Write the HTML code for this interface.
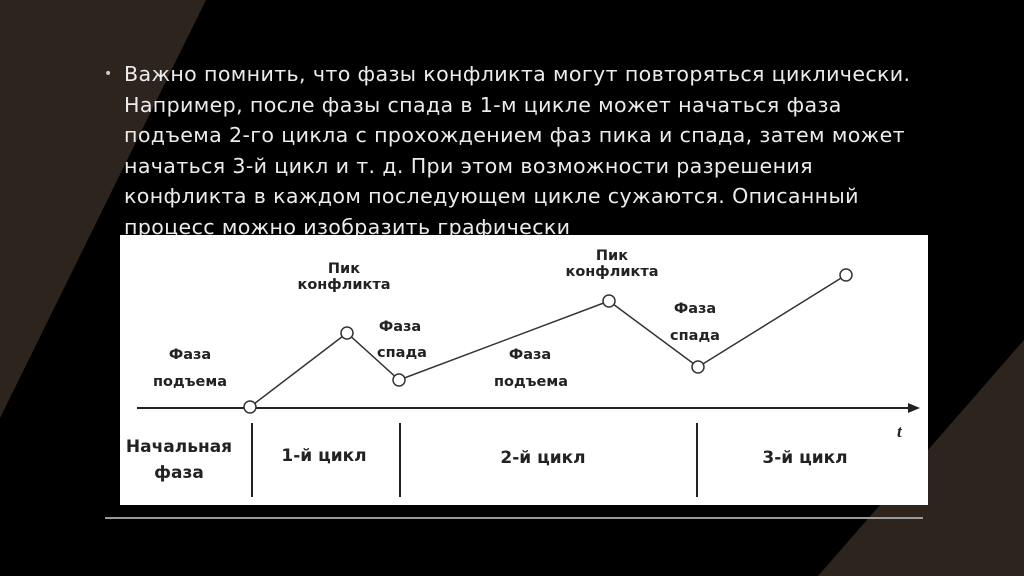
<!DOCTYPE html>
<html><head><meta charset="utf-8"><style>
html,body{margin:0;padding:0;}
body{width:1024px;height:576px;background:#000;position:relative;overflow:hidden;font-family:"DejaVu Sans","Liberation Sans",sans-serif;}
.txt{position:absolute;left:124px;top:59px;color:#ececec;font-size:20.6px;line-height:30.6px;white-space:nowrap;letter-spacing:0.35px;}
.bul{position:absolute;left:104px;top:59px;color:#ccc;font-size:14px;line-height:30px;}
</style></head><body>
<svg width="1024" height="576" style="position:absolute;left:0;top:0">
<polygon points="0,0 206,0 0,418" fill="#2e241e"/>
<polygon points="1024,340 1024,576 818,576" fill="#2e241e"/>
<line x1="105" y1="518" x2="923" y2="518" stroke="#9a9a9a" stroke-width="2"/>
</svg>
<div class="bul">•</div>
<div class="txt">Важно помнить, что фазы конфликта могут повторяться циклически.<br>Например, после фазы спада в 1-м цикле может начаться фаза<br>подъема 2-го цикла с прохождением фаз пика и спада, затем может<br>начаться 3-й цикл и т. д. При этом возможности разрешения<br>конфликта в каждом последующем цикле сужаются. Описанный<br>процесс можно изобразить графически</div>
<svg width="1024" height="576" style="position:absolute;left:0;top:0" font-family="DejaVu Sans, Liberation Sans, sans-serif">
<rect x="120" y="235" width="808" height="270" fill="#fff"/>
<line x1="137" y1="408" x2="912" y2="408" stroke="#222" stroke-width="2"/>
<polygon points="920,408 908,403 908,413" fill="#222"/>
<polyline points="250,407 347,333 399,380 609,301 698,367 846,275" fill="none" stroke="#333" stroke-width="1.5"/>
<g fill="#fff" stroke="#333" stroke-width="1.5">
<circle cx="250" cy="407" r="6"/><circle cx="347" cy="333" r="6"/><circle cx="399" cy="380" r="6"/>
<circle cx="609" cy="301" r="6"/><circle cx="698" cy="367" r="6"/><circle cx="846" cy="275" r="6"/>
</g>
<g stroke="#222" stroke-width="2"><line x1="252" y1="423" x2="252" y2="497"/><line x1="400" y1="423" x2="400" y2="497"/><line x1="697" y1="423" x2="697" y2="497"/></g>
<g fill="#222" font-size="14.5" text-anchor="middle" font-weight="bold">
<text x="190" y="359">Фаза</text><text x="190" y="386">подъема</text>
<text x="344" y="273">Пик</text><text x="344" y="289">конфликта</text>
<text x="400" y="331">Фаза</text><text x="402" y="357">спада</text>
<text x="530" y="359">Фаза</text><text x="531" y="386">подъема</text>
<text x="612" y="260">Пик</text><text x="612" y="276">конфликта</text>
<text x="695" y="313">Фаза</text><text x="695" y="340">спада</text>
</g>
<g fill="#222" font-size="17" text-anchor="middle" font-weight="bold">
<text x="179" y="452">Начальная</text><text x="179" y="478">фаза</text>
<text x="324" y="461">1-й цикл</text><text x="543" y="463">2-й цикл</text><text x="805" y="463">3-й цикл</text>
</g>
<text x="897" y="437" font-family="Liberation Serif, serif" font-style="italic" font-weight="bold" font-size="17" fill="#222">t</text>
</svg>
</body></html>
